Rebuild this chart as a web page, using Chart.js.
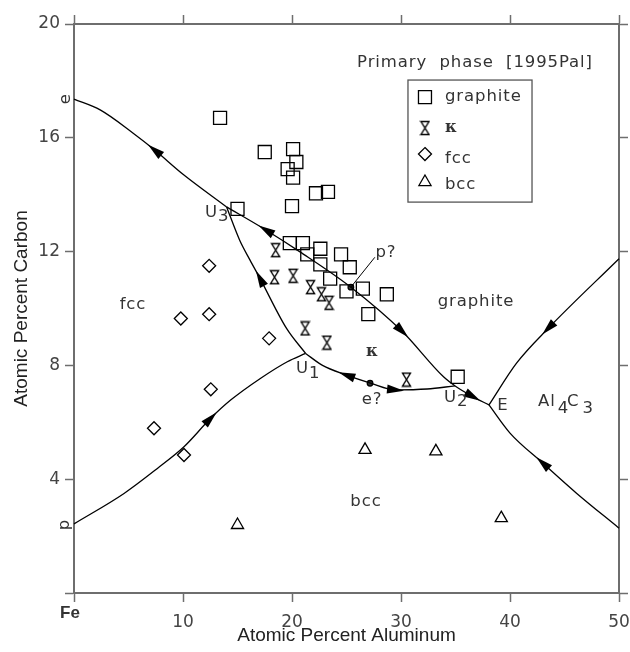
<!DOCTYPE html>
<html>
<head>
<meta charset="utf-8">
<script src="https://cdn.jsdelivr.net/npm/chart.js@4.4.1/dist/chart.umd.min.js"></script>
<style>
  html, body { margin: 0; padding: 0; background: #fff; }
</style>
</head>
<body>
<canvas id="myChart" width="630" height="652"></canvas>
<script>
/* values: x = at.% Al, y = at.% C */

/* liquidus valley lines */
const eU3 = [[0, 17.36], [2.4, 16.98], [5.4, 16.17], [7.4, 15.57], [10, 14.72], [14.0, 13.57]];
const u3E = [[14.0, 13.57], [17.6, 12.76], [20.7, 12.0], [25.4, 10.75], [30.1, 9.2], [33.9, 7.6], [35.0, 7.27], [36.6, 6.9], [38.07, 6.61]];
const u3U1 = [[14.0, 13.57], [15.2, 12.4], [16.15, 11.7], [17.06, 11.06], [19.5, 9.3], [21.25, 8.42]];
const pU1 = [[0, 2.43], [4.59, 3.5], [7.65, 4.38], [10.09, 5.14], [12.54, 6.14], [14.37, 6.78], [17.13, 7.55], [19.57, 8.13], [21.25, 8.42]];
const u1U2 = [[21.25, 8.42], [22.8, 8.0], [25.0, 7.66], [27.2, 7.38], [29.5, 7.14], [32.4, 7.17], [34.95, 7.28]];
const eLow = [[38.07, 6.61], [40, 5.62], [43.0, 4.57], [46.1, 3.51], [50, 2.28]];
const eHigh = [[38.07, 6.61], [40.6, 8.08], [43.5, 9.3], [50, 11.75]];

/* special points p? and e? */
const openPoints = [[25.4, 10.75], [27.16, 7.37]];
const pLeader = [[25.4, 10.75], [27.6, 11.8]];

/* primary phase of the alloys */
const graphite = [[13.4, 16.7], [17.5, 15.5], [20.1, 15.6], [20.4, 15.15], [19.6, 14.9], [20.1, 14.6], [22.2, 14.05], [23.3, 14.1],
  [15.0, 13.5], [20.0, 13.6], [19.8, 12.3], [21.0, 12.3], [21.4, 11.9], [22.6, 12.1], [22.6, 11.55], [24.5, 11.9],
  [25.3, 11.45], [23.5, 11.05], [25.0, 10.6], [26.5, 10.7], [28.7, 10.5], [27.0, 9.8], [35.2, 7.6]];
const kappa = [[18.5, 12.05], [18.4, 11.1], [20.1, 11.15], [21.7, 10.75], [22.7, 10.5], [23.4, 10.2], [21.2, 9.3], [23.2, 8.8], [30.5, 7.5]];
const fcc = [[12.4, 11.5], [9.8, 9.65], [12.4, 9.8], [17.9, 8.95], [12.55, 7.16], [7.34, 5.79], [10.09, 4.85]];
const bcc = [[15.0, 2.39], [26.7, 5.03], [33.2, 4.98], [39.2, 2.63]];

const xTicks = [0, 10, 20, 30, 40, 50];
const yTicks = [0, 4, 8, 12, 16, 20];

/* curve, point index, direction of the arrow */
const curves = [eU3, u3E, u3U1, pU1, u1U2, eLow, eHigh];
const arrows = [[eU3, 3, -1], [u3E, 1, -1], [u3E, 4, 1], [u3E, 7, 1], [u3U1, 3, -1], [pU1, 4, 1], [u1U2, 2, -1], [u1U2, 4, 1], [eLow, 2, -1], [eHigh, 2, -1]];

/* text on the diagram */
const notes = [
  { t: 'fcc', x: 5.41, y: 10.12 },
  { t: 'graphite', x: 36.88, y: 10.23 },
  { t: 'bcc', x: 26.79, y: 3.2 },
  { t: 'p?', x: 28.62, y: 11.95 },
  { t: 'e?', x: 27.34, y: 6.78 },
  { t: 'E', x: 39.36, y: 6.57 },
  { t: 'κ', x: 27.34, y: 8.47, bold: true },
  { t: 'U', sub: '3', x: 12.02, y: 13.37, left: true },
  { t: 'U', sub: '1', x: 20.37, y: 7.87, left: true },
  { t: 'U', sub: '2', x: 33.94, y: 6.87, left: true },
  { t: 'Al', sub: '4', x: 42.57, y: 6.71, left: true, subDy: 7, gap: 2 },
  { t: 'C', sub: '3', x: 45.23, y: 6.71, left: true, subDy: 7, gap: 3 },
  { t: 'e', x: -0.73, y: 17.36, rot: true },
  { t: 'p', x: -0.83, y: 2.39, rot: true },
  { t: 'Primary  phase  [1995Pal]', x: 36.79, y: 18.63 },
];
const legendItems = [['rect', 'graphite'], ['hourglass', 'κ'], ['rectRot', 'fcc'], ['triangle', 'bcc']];

/* hourglass marker for kappa */
const makeHourglass = (w, h) => {
  const c = document.createElement('canvas');
  c.width = w;
  c.height = h;
  const g = c.getContext('2d');
  g.strokeStyle = '#000';
  g.lineWidth = 1.4;
  g.beginPath();
  g.moveTo(1.5, 1.5);
  g.lineTo(w - 1.5, 1.5);
  g.lineTo(1.5, h - 1.5);
  g.lineTo(w - 1.5, h - 1.5);
  g.closePath();
  g.stroke();
  return c;
};
const hourglass = makeHourglass(11, 16);

const textFont = '"DejaVu Sans", sans-serif';
const labelFont = '16.5px ' + textFont;
const kappaFont = 'bold 16px "DejaVu Serif", serif';
const axisGray = '#6e6e6e';

const toXY = (arr) => arr.map(([x, y]) => ({ x, y }));

const lineSet = (arr) => ({
  data: toXY(arr),
  showLine: true,
  borderColor: '#000',
  borderWidth: 1.3,
  pointRadius: 0,
  cubicInterpolationMode: 'monotone',
  fill: false,
  clip: false,
});
const markSet = (arr, style, radius) => ({
  data: toXY(arr),
  showLine: false,
  pointStyle: style,
  pointRadius: radius,
  borderColor: '#000',
  backgroundColor: 'rgba(0,0,0,0)',
  borderWidth: 1.3,
});

const drawMarker = (ctx, style, x, y) => {
  ctx.beginPath();
  if (style === 'rect') {
    ctx.rect(x - 6.5, y - 6.5, 13, 13);
  } else if (style === 'rectRot') {
    ctx.moveTo(x, y - 6.5);
    ctx.lineTo(x + 6.5, y);
    ctx.lineTo(x, y + 6.5);
    ctx.lineTo(x - 6.5, y);
    ctx.closePath();
  } else if (style === 'triangle') {
    ctx.moveTo(x, y - 7);
    ctx.lineTo(x + 6.06, y + 3.5);
    ctx.lineTo(x - 6.06, y + 3.5);
    ctx.closePath();
  } else {
    ctx.drawImage(hourglass, x - hourglass.width / 2, y - hourglass.height / 2);
    return;
  }
  ctx.stroke();
};

/* arrows, labels and the legend box */
const overlay = {
  id: 'overlay',
  afterDatasetsDraw(chart) {
    const { ctx, scales: { x, y } } = chart;
    const px = (v) => x.getPixelForValue(v);
    const py = (v) => y.getPixelForValue(v);
    ctx.save();

    /* arrow heads */
    ctx.fillStyle = '#000';
    arrows.forEach(([curve, i, dir]) => {
      const pts = chart.getDatasetMeta(curves.indexOf(curve)).data;
      const p = pts[i], a = pts[i - 1], b = pts[i + 1];
      let dx = (b.x - a.x) * dir, dy = (b.y - a.y) * dir;
      const n = Math.hypot(dx, dy);
      dx /= n;
      dy /= n;
      const len = 17, half = 4.5;
      const tx = p.x + dx * len / 2, ty = p.y + dy * len / 2;
      const bx = p.x - dx * len / 2, by = p.y - dy * len / 2;
      ctx.beginPath();
      ctx.moveTo(tx, ty);
      ctx.lineTo(bx - dy * half, by + dx * half);
      ctx.lineTo(bx + dy * half, by - dx * half);
      ctx.closePath();
      ctx.fill();
    });

    /* labels */
    ctx.fillStyle = '#333';
    ctx.textBaseline = 'middle';
    notes.forEach((n) => {
      const X = px(n.x), Y = py(n.y);
      ctx.font = n.bold ? kappaFont : labelFont;
      ctx.letterSpacing = n.bold || n.rot ? '0px' : '0.9px';
      if (n.rot) {
        ctx.save();
        ctx.translate(X, Y);
        ctx.rotate(-Math.PI / 2);
        ctx.textAlign = 'center';
        ctx.fillText(n.t, 0, 0);
        ctx.restore();
        return;
      }
      ctx.textAlign = n.left ? 'left' : 'center';
      ctx.fillText(n.t, X, Y);
      if (n.sub) {
        const w = ctx.measureText(n.t).width;
        ctx.textAlign = 'left';
        ctx.fillText(n.sub, X + w + (n.gap || 0), Y + (n.subDy || 4.5));
      }
    });
    ctx.letterSpacing = '0px';

    /* Fe in place of the 0 tick label */
    ctx.font = 'bold 17px "Liberation Sans", Arial, sans-serif';
    ctx.fillStyle = '#333';
    ctx.textAlign = 'center';
    ctx.fillText('Fe', px(0) - 4, py(0) + 20);

    /* legend box */
    const lx = px(30.64), ly = py(18.03);
    const lw = px(42.02) - lx, lh = py(13.74) - ly;
    ctx.strokeStyle = '#555';
    ctx.lineWidth = 1.3;
    ctx.strokeRect(lx, ly, lw, lh);
    const rows = [17, 48, 74, 102];
    const textDy = [0, 0, 5, 3];
    ctx.strokeStyle = '#000';
    legendItems.forEach(([style, label], i) => {
      drawMarker(ctx, style, lx + 17, ly + rows[i]);
      ctx.fillStyle = '#333';
      ctx.textAlign = 'left';
      ctx.font = style === 'hourglass' ? kappaFont : labelFont;
      ctx.letterSpacing = style === 'hourglass' ? '0px' : '0.9px';
      ctx.fillText(label, lx + 37, ly + rows[i] + textDy[i]);
    });
    ctx.restore();
  },
};

const gridOpts = { drawOnChartArea: false, tickLength: 9, tickColor: axisGray, tickWidth: 1.5 };
const borderOpts = { color: axisGray, width: 2 };
const tickFont = { family: textFont, size: 17 };
const titleFont = { family: '"Liberation Sans", Arial, sans-serif', size: 19 };

/* fixed box sizes so the plot area sits where it does in the figure */
const fixBox = (w, h) => (s) => {
  if (w !== null) s.width = w;
  if (h !== null) s.height = h;
  s.paddingLeft = 0;
  s.paddingRight = 0;
  s.paddingTop = 0;
  s.paddingBottom = 0;
};

const chart = new Chart(document.getElementById('myChart'), {
  type: 'scatter',
  data: {
    datasets: [
      ...curves.map(lineSet),
      { ...lineSet(pLeader), borderWidth: 1 },
      markSet(graphite, 'rect', 9.2),
      { ...markSet(kappa, hourglass, 6) },
      markSet(fcc, 'rectRot', 6.5),
      markSet(bcc, 'triangle', 7),
      { ...markSet(openPoints, 'circle', 2.8), backgroundColor: '#333' },
    ],
  },
  options: {
    responsive: false,
    animation: false,
    events: [],
    layout: { padding: 0 },
    plugins: { legend: { display: false }, tooltip: { enabled: false } },
    scales: {
      x: {
        type: 'linear',
        position: 'bottom',
        min: 0,
        max: 50,
        afterBuildTicks: (s) => { s.ticks = xTicks.map((v) => ({ value: v })); },
        ticks: { color: '#444', font: tickFont, padding: 10, maxRotation: 0, callback: (v) => (v === 0 ? '' : v) },
        grid: gridOpts,
        border: borderOpts,
        title: { display: true, text: 'Atomic Percent Aluminum', color: '#222', font: titleFont, padding: { top: 0, bottom: 5 } },
        afterFit: fixBox(null, 59),
      },
      x2: {
        type: 'linear',
        position: 'top',
        min: 0,
        max: 50,
        afterBuildTicks: (s) => { s.ticks = xTicks.map((v) => ({ value: v })); },
        ticks: { display: false },
        grid: gridOpts,
        border: borderOpts,
        afterFit: fixBox(null, 24),
      },
      y: {
        type: 'linear',
        position: 'left',
        min: 0,
        max: 20,
        afterBuildTicks: (s) => { s.ticks = yTicks.map((v) => ({ value: v })); },
        ticks: { color: '#444', font: tickFont, padding: 5, callback: (v) => (v === 0 ? '' : v) },
        grid: gridOpts,
        border: borderOpts,
        title: { display: true, text: 'Atomic Percent Carbon', color: '#222', font: titleFont, padding: { top: 10, bottom: 0 } },
        afterFit: fixBox(74, null),
      },
      y2: {
        type: 'linear',
        position: 'right',
        min: 0,
        max: 20,
        afterBuildTicks: (s) => { s.ticks = yTicks.map((v) => ({ value: v })); },
        ticks: { display: false },
        grid: gridOpts,
        border: borderOpts,
        afterFit: fixBox(11, null),
      },
    },
  },
  plugins: [overlay],
});
</script>
</body>
</html>
